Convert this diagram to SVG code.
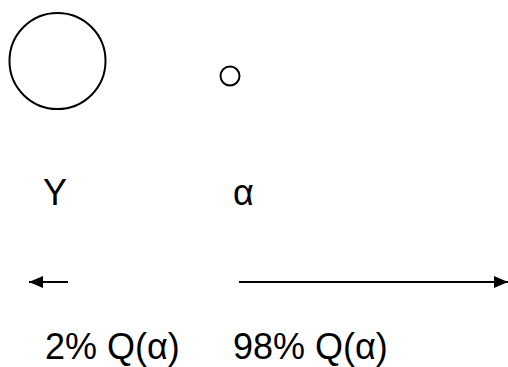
<svg xmlns="http://www.w3.org/2000/svg" width="508" height="367" viewBox="0 0 508 367">
<style>
.c{fill:none;stroke:#000;stroke-width:2}
.l{stroke:#000;stroke-width:2;fill:none}
.t{font-family:"Liberation Sans",Arial,sans-serif;fill:#000;font-size:36px}
</style>
<defs>
<marker id="ah2" viewBox="0 0 14 12" refX="14" refY="6" markerWidth="14" markerHeight="12" markerUnits="userSpaceOnUse" orient="auto">
<path d="M0,0 L14,6 L0,12 z" fill="#000"/>
</marker>
</defs>
<rect width="508" height="367" fill="#fff"/>
<g id="big"><circle class="c" cx="57.5" cy="61" r="48"/></g>
<g id="small"><circle class="c" cx="230" cy="76" r="9.5"/></g>
<g id="labels">
<text class="t" x="43" y="205">Y</text>
<text class="t" x="233" y="205">α</text>
<text class="t" x="45" y="359">2% Q(α)</text>
<text class="t" x="233" y="359">98% Q(α)</text>
</g>
<g id="connectors">
<line class="l" x1="68" y1="282" x2="29" y2="282" marker-end="url(#ah2)"/>
<line class="l" x1="239" y1="282" x2="508" y2="282" marker-end="url(#ah2)"/>
</g>
</svg>
